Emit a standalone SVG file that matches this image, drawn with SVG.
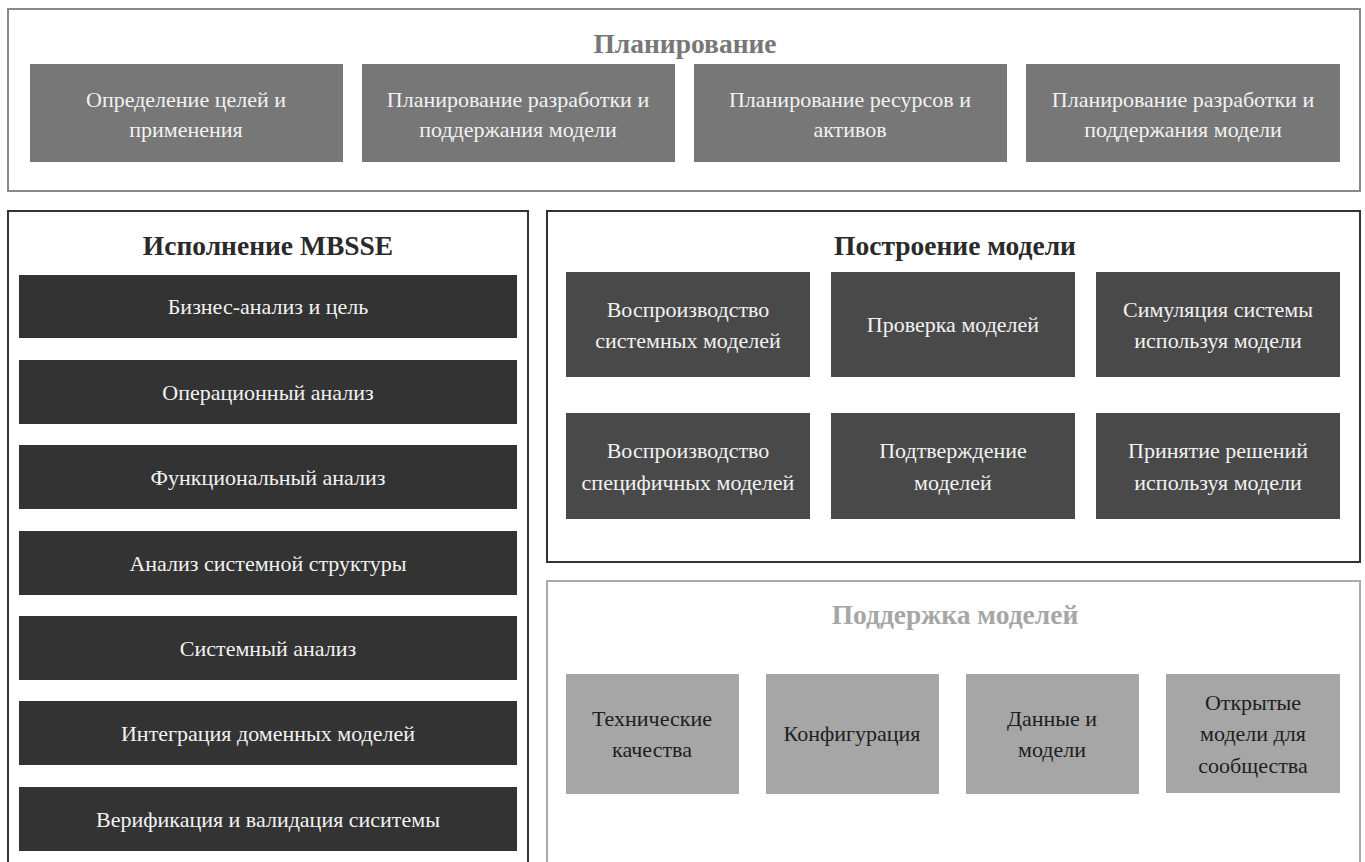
<svg xmlns="http://www.w3.org/2000/svg" width="1365" height="862" viewBox="0 0 1365 862">
<style>
text{font-family:"Liberation Serif","Times New Roman",serif;text-anchor:middle;dominant-baseline:central}
.title{font-weight:bold;font-size:27.5px}
.t{font-size:22px}
.pl rect{fill:#777}
.pl text{fill:#f2f2f2}
.ex rect{fill:#333}
.ex text{fill:#f2f2f2}
.bm rect{fill:#494949}
.bm text{fill:#f2f2f2}
.sp rect{fill:#a6a6a6}
.sp text{fill:#1e1e1e}
</style>
<rect width="1365" height="862" fill="#fff"/>
<g id="planning">
<rect x="8" y="9" width="1352" height="182" fill="none" stroke="#888" stroke-width="2"/>
<text x="685" y="43" class="title" fill="#777">Планирование</text>
</g>
<g id="p1" class="pl"><rect x="30" y="64" width="313" height="98"/><text class="t" x="186" y="99">Определение целей и</text><text class="t" x="186" y="129">применения</text></g>
<g id="p2" class="pl"><rect x="362" y="64" width="313" height="98"/><text class="t" x="518" y="99">Планирование разработки и</text><text class="t" x="518" y="129">поддержания модели</text></g>
<g id="p3" class="pl"><rect x="694" y="64" width="313" height="98"/><text class="t" x="850" y="99">Планирование ресурсов и</text><text class="t" x="850" y="129">активов</text></g>
<g id="p4" class="pl"><rect x="1026" y="64" width="314" height="98"/><text class="t" x="1183" y="99">Планирование разработки и</text><text class="t" x="1183" y="129">поддержания модели</text></g>

<g id="execution">
<rect x="8" y="211" width="520" height="660" fill="none" stroke="#333" stroke-width="2"/>
<text x="268" y="245" class="title" fill="#2a2a2a">Исполнение MBSSE</text>
</g>
<g id="e1" class="ex"><rect x="19" y="275" width="498" height="63"/><text class="t" x="268" y="306">Бизнес-анализ и цель</text></g>
<g id="e2" class="ex"><rect x="19" y="360" width="498" height="64"/><text class="t" x="268" y="392">Операционный анализ</text></g>
<g id="e3" class="ex"><rect x="19" y="445" width="498" height="64"/><text class="t" x="268" y="477">Функциональный анализ</text></g>
<g id="e4" class="ex"><rect x="19" y="531" width="498" height="64"/><text class="t" x="268" y="563">Анализ системной структуры</text></g>
<g id="e5" class="ex"><rect x="19" y="616" width="498" height="64"/><text class="t" x="268" y="648">Системный анализ</text></g>
<g id="e6" class="ex"><rect x="19" y="701" width="498" height="64"/><text class="t" x="268" y="733">Интеграция доменных моделей</text></g>
<g id="e7" class="ex"><rect x="19" y="787" width="498" height="64"/><text class="t" x="268" y="819">Верификация и валидация сиситемы</text></g>

<g id="building">
<rect x="547" y="211" width="813" height="351" fill="none" stroke="#333" stroke-width="2"/>
<text x="955" y="245" class="title" fill="#2a2a2a">Построение модели</text>
</g>
<g id="b1" class="bm"><rect x="566" y="272" width="244" height="105"/><text class="t" x="688" y="309">Воспроизводство</text><text class="t" x="688" y="340">системных моделей</text></g>
<g id="b2" class="bm"><rect x="831" y="272" width="244" height="105"/><text class="t" x="953" y="324">Проверка моделей</text></g>
<g id="b3" class="bm"><rect x="1096" y="272" width="244" height="105"/><text class="t" x="1218" y="309">Симуляция системы</text><text class="t" x="1218" y="340">используя модели</text></g>
<g id="b4" class="bm"><rect x="566" y="413" width="244" height="106"/><text class="t" x="688" y="450">Воспроизводство</text><text class="t" x="688" y="482">специфичных моделей</text></g>
<g id="b5" class="bm"><rect x="831" y="413" width="244" height="106"/><text class="t" x="953" y="450">Подтверждение</text><text class="t" x="953" y="482">моделей</text></g>
<g id="b6" class="bm"><rect x="1096" y="413" width="244" height="106"/><text class="t" x="1218" y="450">Принятие решений</text><text class="t" x="1218" y="482">используя модели</text></g>

<g id="support">
<rect x="547" y="581" width="813" height="290" fill="none" stroke="#aaa" stroke-width="2"/>
<text x="955" y="614" class="title" fill="#a6a6a6">Поддержка моделей</text>
</g>
<g id="s1" class="sp"><rect x="566" y="674" width="173" height="120"/><text class="t" x="652" y="718">Технические</text><text class="t" x="652" y="749">качества</text></g>
<g id="s2" class="sp"><rect x="766" y="674" width="173" height="120"/><text class="t" x="852" y="733">Конфигурация</text></g>
<g id="s3" class="sp"><rect x="966" y="674" width="173" height="120"/><text class="t" x="1052" y="718">Данные и</text><text class="t" x="1052" y="749">модели</text></g>
<g id="s4" class="sp"><rect x="1166" y="674" width="174" height="119"/><text class="t" x="1253" y="702">Открытые</text><text class="t" x="1253" y="733">модели для</text><text class="t" x="1253" y="765">сообщества</text></g>
<g id="connectors"/>
</svg>
